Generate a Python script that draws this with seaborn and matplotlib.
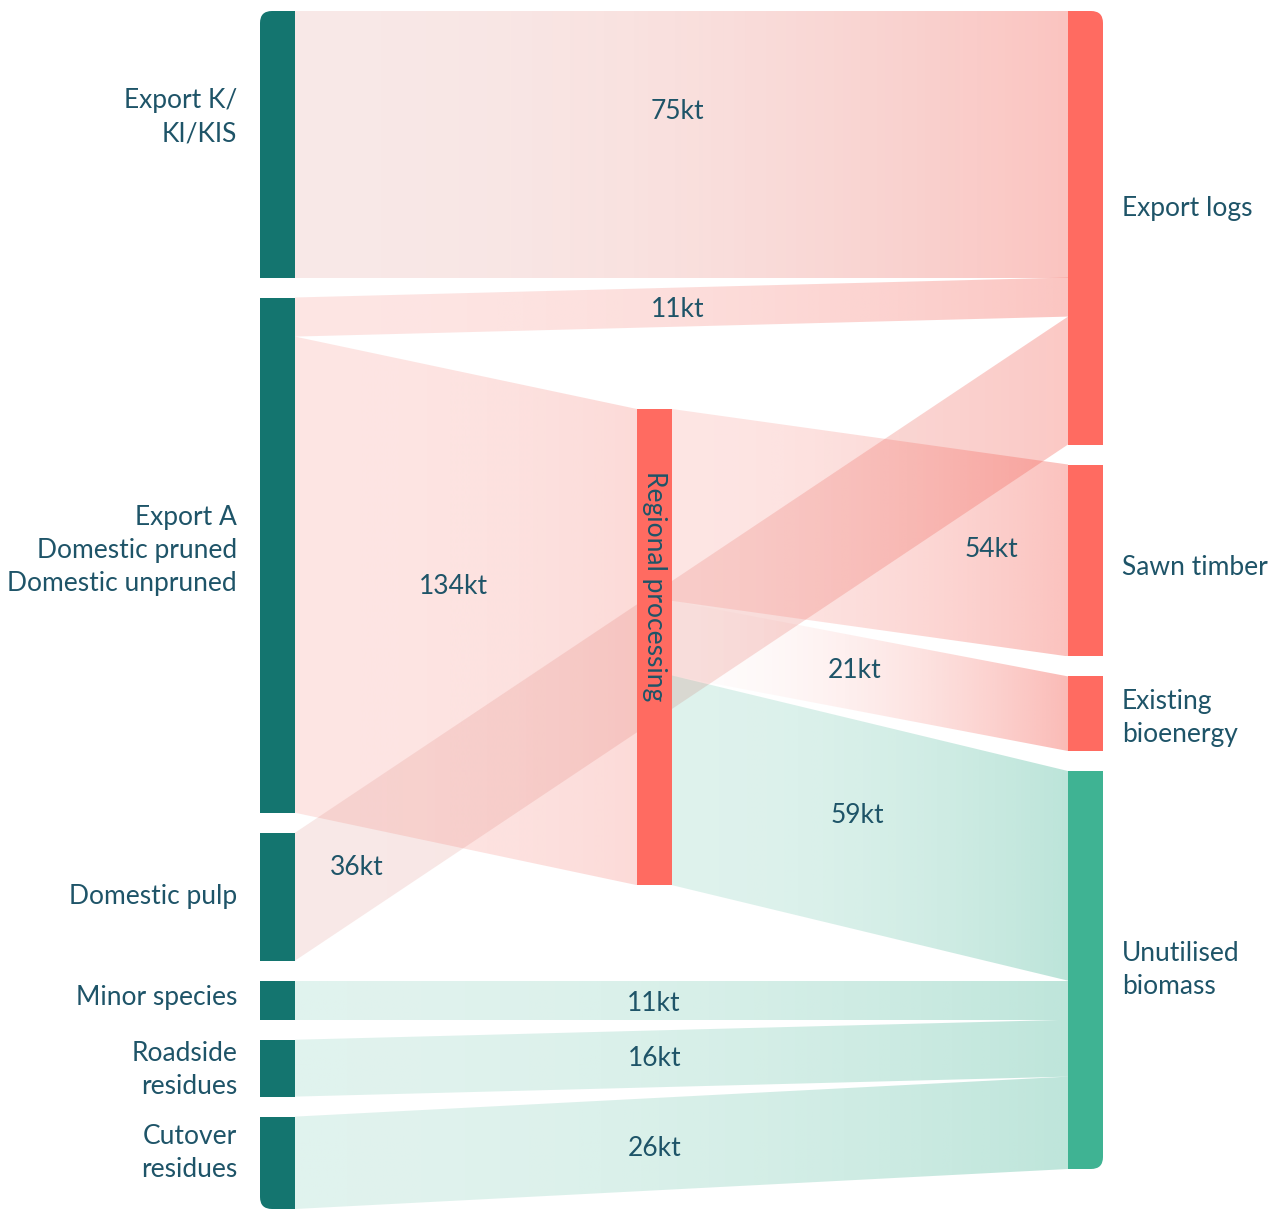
import numpy as np
import matplotlib
matplotlib.use("Agg")
import matplotlib.pyplot as plt
from matplotlib.patches import Polygon, Rectangle, FancyBboxPatch
from matplotlib.colors import to_rgb
import seaborn as sns

# ---------------- data ----------------
left_nodes = ["Export K/\nKI/KIS", "Export A\nDomestic pruned\nDomestic unpruned",
              "Domestic pulp", "Minor species", "Roadside\nresidues", "Cutover\nresidues"]
mid_nodes = ["Regional processing"]
right_nodes = ["Export logs", "Sawn timber", "Existing\nbioenergy", "Unutilised\nbiomass"]

link_source = ["Export K/\nKI/KIS",
               "Export A\nDomestic pruned\nDomestic unpruned",
               "Export A\nDomestic pruned\nDomestic unpruned",
               "Domestic pulp",
               "Regional processing", "Regional processing", "Regional processing",
               "Minor species", "Roadside\nresidues", "Cutover\nresidues"]
link_target = ["Export logs", "Export logs", "Regional processing", "Export logs",
               "Sawn timber", "Existing\nbioenergy", "Unutilised\nbiomass",
               "Unutilised\nbiomass", "Unutilised\nbiomass", "Unutilised\nbiomass"]
link_value = [75, 11, 134, 36, 54, 21, 59, 11, 16, 26]
link_unit = "kt"

# ---------------- styling ----------------
TEAL = "#14756F"
CORAL = "#FF6B61"
GREEN = "#3FB393"
TEXT = "#1E5468"
node_colors = {n: TEAL for n in left_nodes}
node_colors.update({"Regional processing": CORAL, "Export logs": CORAL,
                    "Sawn timber": CORAL, "Existing\nbioenergy": CORAL,
                    "Unutilised\nbiomass": GREEN})
link_tint = {CORAL: "#F5675D", GREEN: GREEN}
# opacity ramp (start, end) along each ribbon
link_alpha = [(0.15, 0.39), (0.17, 0.38), (0.17, 0.24), (0.15, 0.36), (0.17, 0.40),
              (0.02, 0.45), (0.17, 0.35), (0.16, 0.34), (0.16, 0.34), (0.16, 0.34)]
# share of the source colour mixed into the start of each ribbon
link_source_mix = [0.16, 0.0, 0.0, 0.16, 0.0, 0.0, 0.0, 0.0, 0.0, 0.0]
# label placement along ribbon (fraction of x-span, vertical nudge in px)
link_label_pos = [(0.495, -33), (0.495, 2), (0.462, -22), (0.08, 12), (0.806, 0),
                  (0.462, -3), (0.467, -9), (0.464, 3), (0.465, 0), (0.465, 4)]
left_label_dy = [-27, -5, 0, -3, 2, -10]
right_label_dy = [-19, 7, 4, 0]

sns.set_theme(style="white")
plt.rcParams["font.family"] = ["Lato", "DejaVu Sans"]
FS = 19
LS = 1.4

W, H = 1280, 1210
fig = plt.figure(figsize=(W / 100, H / 100), dpi=100)
ax = fig.add_axes([0, 0, 1, 1])
ax.set_axis_off()

# ---------------- layout ----------------
col_x = [260, 637, 1068]
node_w = 35
top, span, gap = 11, 1198, 20
mid_top = 409

in_sum, out_sum = {}, {}
for s, t, v in zip(link_source, link_target, link_value):
    out_sum[s] = out_sum.get(s, 0) + v
    in_sum[t] = in_sum.get(t, 0) + v
node_val = {n: max(in_sum.get(n, 0), out_sum.get(n, 0))
            for n in left_nodes + mid_nodes + right_nodes}

left_total = sum(node_val[n] for n in left_nodes)
scale = (span - gap * (len(left_nodes) - 1)) / left_total

pos = {}
for col, nodes, start in [(0, left_nodes, top), (1, mid_nodes, mid_top), (2, right_nodes, top)]:
    y = start
    for n in nodes:
        h = node_val[n] * scale
        pos[n] = (col_x[col], y, h)
        y += h + gap

# ---------------- ribbons ----------------
out_off = {n: pos[n][1] for n in pos}
in_off = {n: pos[n][1] for n in pos}
label_items = []
for i, (s, t, v) in enumerate(zip(link_source, link_target, link_value)):
    h = v * scale
    x0 = pos[s][0] + node_w
    x1 = pos[t][0]
    y0a = out_off[s]; y0b = y0a + h
    y1a = in_off[t]; y1b = y1a + h
    out_off[s] += h
    in_off[t] += h

    poly = Polygon([[x0, y0a], [x1, y1a], [x1, y1b], [x0, y0b]], closed=True,
                   facecolor="none", edgecolor="none", transform=ax.transData)
    ax.add_patch(poly)
    n = 400
    tt = np.linspace(0, 1, n)[:, None]
    a0, a1 = link_alpha[i]
    c_end = np.array(to_rgb(link_tint[node_colors[t]]))
    m = link_source_mix[i]
    c_start = (1 - m) * c_end + m * np.array(to_rgb(node_colors[s]))
    img = np.zeros((1, n, 4))
    img[0, :, :3] = c_start + (c_end - c_start) * tt
    img[0, :, 3] = a0 + (a1 - a0) * tt[:, 0] ** 2
    ymin, ymax = min(y0a, y1a), max(y0b, y1b)
    im = ax.imshow(img, extent=[x0, x1, ymax, ymin], aspect="auto",
                   interpolation="bilinear", zorder=1)
    im.set_clip_path(poly)

    ft, dy = link_label_pos[i]
    lx = x0 + ft * (x1 - x0)
    ly = (y0a + y0b) / 2 + ft * ((y1a + y1b) / 2 - (y0a + y0b) / 2) + dy
    label_items.append((lx, ly, f"{v}{link_unit}"))

# ---------------- nodes ----------------
R = 12
col_clip = {}
for col, nodes in [(0, left_nodes), (2, right_nodes)]:
    y_first = pos[nodes[0]][1]
    y_last = pos[nodes[-1]][1] + pos[nodes[-1]][2]
    bx = col_x[col] if col == 0 else col_x[col] - 3 * R
    clip = FancyBboxPatch((bx, y_first), node_w + 3 * R, y_last - y_first,
                          boxstyle=f"round,pad=0,rounding_size={R}",
                          transform=ax.transData, facecolor="none", edgecolor="none")
    col_clip[col] = clip

for col, nodes in [(0, left_nodes), (1, mid_nodes), (2, right_nodes)]:
    for n in nodes:
        x, y, h = pos[n]
        rect = Rectangle((x, y), node_w, h, facecolor=node_colors[n],
                         edgecolor="none", zorder=3)
        ax.add_patch(rect)
        if col in col_clip:
            rect.set_clip_path(col_clip[col])

# ---------------- text ----------------
txt = dict(fontsize=FS, color=TEXT, zorder=5)
for n, dy in zip(left_nodes, left_label_dy):
    x, y, h = pos[n]
    ax.text(x - 23, y + h / 2 + dy, n, ha="right", va="center", linespacing=LS, **txt)
for n, dy in zip(right_nodes, right_label_dy):
    x, y, h = pos[n]
    ax.text(x + node_w + 19, y + h / 2 + dy, n, ha="left", va="center", linespacing=LS, **txt)
for n in mid_nodes:
    x, y, h = pos[n]
    ax.text(x + node_w / 2, y + h / 2 - 61, n, ha="center", va="center",
            rotation=-90, **txt)
for lx, ly, s in label_items:
    ax.text(lx, ly, s, ha="center", va="center", **txt)

ax.set_xlim(0, W)
ax.set_ylim(H, 0)
fig.savefig("out.png", dpi=100)
